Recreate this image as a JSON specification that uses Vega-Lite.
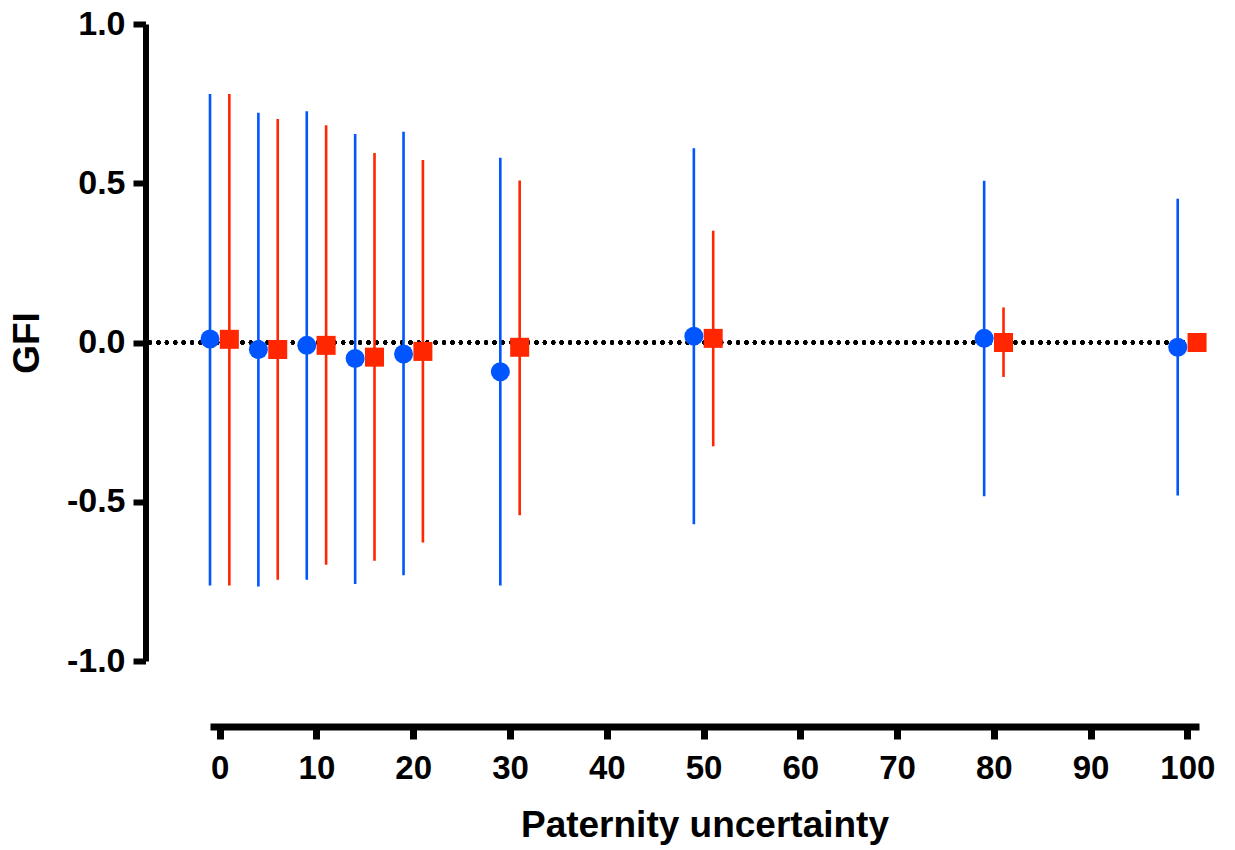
{
  "$schema": "https://vega.github.io/schema/vega-lite/v6.json",
  "width": 989,
  "height": 637,
  "autosize": {"type": "none"},
  "padding": {"left": 210, "top": 24, "right": 36, "bottom": 189},
  "background": "white",
  "config": {"view": {"stroke": null}, "axis": {"grid": false}},
  "data": {
    "values": [
      {"series": "A", "x": -1, "gfi": 0.011, "lo": -0.763, "hi": 0.780},
      {"series": "B", "x": 1, "gfi": 0.010, "lo": -0.763, "hi": 0.780},
      {"series": "A", "x": 4, "gfi": -0.022, "lo": -0.766, "hi": 0.721},
      {"series": "B", "x": 6, "gfi": -0.022, "lo": -0.745, "hi": 0.702},
      {"series": "A", "x": 9, "gfi": -0.009, "lo": -0.745, "hi": 0.726},
      {"series": "B", "x": 11, "gfi": -0.009, "lo": -0.698, "hi": 0.682},
      {"series": "A", "x": 14, "gfi": -0.050, "lo": -0.758, "hi": 0.655},
      {"series": "B", "x": 16, "gfi": -0.046, "lo": -0.685, "hi": 0.595},
      {"series": "A", "x": 19, "gfi": -0.036, "lo": -0.731, "hi": 0.662},
      {"series": "B", "x": 21, "gfi": -0.028, "lo": -0.628, "hi": 0.573},
      {"series": "A", "x": 29, "gfi": -0.092, "lo": -0.763, "hi": 0.580},
      {"series": "B", "x": 31, "gfi": -0.015, "lo": -0.542, "hi": 0.509},
      {"series": "A", "x": 49, "gfi": 0.020, "lo": -0.571, "hi": 0.610},
      {"series": "B", "x": 51, "gfi": 0.013, "lo": -0.326, "hi": 0.351},
      {"series": "A", "x": 79, "gfi": 0.013, "lo": -0.483, "hi": 0.508},
      {"series": "B", "x": 81, "gfi": 0.000, "lo": -0.108, "hi": 0.110},
      {"series": "A", "x": 99, "gfi": -0.015, "lo": -0.480, "hi": 0.451},
      {"series": "B", "x": 101, "gfi": 0.000, "lo": -0.020, "hi": 0.020}
    ]
  },
  "layer": [
    {
      "mark": {"type": "rule", "strokeDash": [0.1, 8.3], "strokeCap": "round", "strokeWidth": 4, "color": "black", "clip": false},
      "encoding": {
        "x": {"datum": -7.2, "type": "quantitative", "scale": {"domain": [-1, 101.2], "nice": false, "zero": false}},
        "x2": {"datum": 101},
        "y": {"datum": 0, "type": "quantitative", "scale": {"domain": [-1, 1], "nice": false}}
      }
    },
    {
      "mark": {"type": "rule", "strokeWidth": 2.6},
      "encoding": {
        "x": {"field": "x", "type": "quantitative", "scale": {"domain": [-1, 101.2], "nice": false, "zero": false},
          "axis": {"values": [0, 10, 20, 30, 40, 50, 60, 70, 80, 90, 100], "offset": 65.5, "domainColor": "black", "domainWidth": 7, "tickColor": "black", "tickWidth": 7, "tickSize": 12.5,
            "labelFont": "Liberation Sans", "labelFontSize": 33, "labelFontWeight": "bold", "labelColor": "black", "labelPadding": 13, "labelFlush": false, "labelOverlap": false,
            "title": "Paternity uncertainty", "titleFont": "Liberation Sans", "titleFontSize": 37, "titleFontWeight": "bold", "titleColor": "black", "titlePadding": 22}},
        "y": {"field": "lo", "type": "quantitative", "scale": {"domain": [-1, 1], "nice": false},
          "axis": {"values": [-1, -0.5, 0, 0.5, 1], "offset": 64.5, "domainColor": "black", "domainWidth": 6, "tickColor": "black", "tickWidth": 6, "tickSize": 12.5,
            "labelExpr": "datum.value < 0 ? '-' + format(-datum.value, '.1f') : format(datum.value, '.1f')",
            "labelFont": "Liberation Sans", "labelFontSize": 34, "labelFontWeight": "bold", "labelColor": "black", "labelPadding": 8, "labelFlush": false, "labelOverlap": false,
            "title": "GFI", "titleFont": "Liberation Sans", "titleFontSize": 37, "titleFontWeight": "bold", "titleColor": "black", "titlePadding": 20}},
        "y2": {"field": "hi"},
        "color": {"field": "series", "type": "nominal", "scale": {"domain": ["A", "B"], "range": ["#0055FF", "#FF2600"]}, "legend": null}
      }
    },
    {
      "mark": {"type": "point", "filled": true, "opacity": 1, "strokeWidth": 0},
      "encoding": {
        "x": {"field": "x", "type": "quantitative"},
        "y": {"field": "gfi", "type": "quantitative"},
        "color": {"field": "series", "type": "nominal", "legend": null},
        "shape": {"field": "series", "type": "nominal", "scale": {"domain": ["A", "B"], "range": ["circle", "square"]}, "legend": null},
        "size": {"field": "series", "type": "nominal", "scale": {"domain": ["A", "B"], "range": [361, 361]}, "legend": null}
      }
    }
  ]
}
